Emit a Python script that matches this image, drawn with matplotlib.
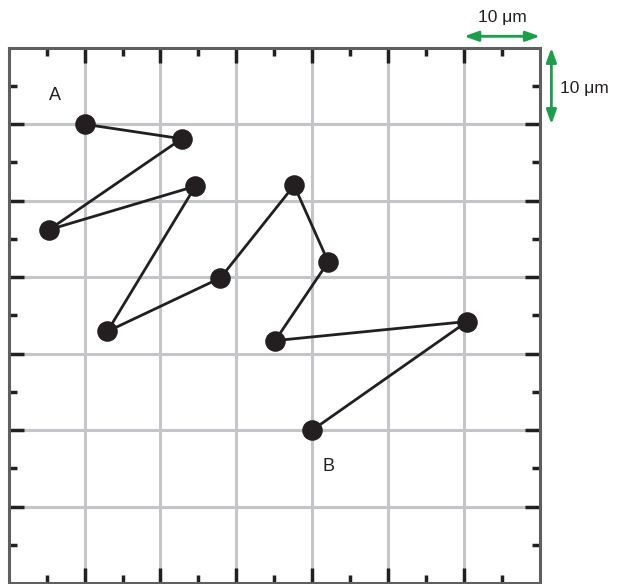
import matplotlib
matplotlib.use("Agg")
import matplotlib.pyplot as plt
from matplotlib.ticker import FixedLocator

plt.rcParams['font.family'] = ['Liberation Sans', 'DejaVu Sans']

# Random-walk positions in grid units (1 unit = 10 µm), from A to B
walk_x = [1.0, 2.28, 0.53, 2.46, 1.30, 2.79, 3.76, 4.21, 3.51, 6.04, 4.0]
walk_y = [6.0, 5.81, 4.62, 5.19, 3.29, 3.99, 5.20, 4.20, 3.17, 3.42, 2.0]
start_label = "A"
end_label = "B"
scale_label = "10 \u03bcm"
grid_extent = 7

fig = plt.figure(figsize=(6.2, 5.84), dpi=100)
ax = fig.add_axes([0.014, 0.0017, 0.857, 0.9165])
ax.set_xlim(0, grid_extent)
ax.set_ylim(0, grid_extent)

# light grid at every whole unit
for v in range(1, grid_extent):
    ax.axvline(v, color="#c3c5c8", lw=2.2, zorder=1)
    ax.axhline(v, color="#c3c5c8", lw=2.2, zorder=1)

ax.plot(walk_x, walk_y, color="#231f20", lw=2.0, zorder=3)
ax.plot(walk_x, walk_y, "o", color="#231f20", ms=13.8, zorder=4)

ax.text(0.61, 6.37, start_label, fontsize=13, ha="center", va="center", color="#231f20")
ax.text(4.21, 1.52, end_label, fontsize=13, ha="center", va="center", color="#231f20")

major = list(range(1, grid_extent))
minor = [k + 0.5 for k in range(grid_extent)]
for axis in (ax.xaxis, ax.yaxis):
    axis.set_major_locator(FixedLocator(major))
    axis.set_minor_locator(FixedLocator(minor))
ax.tick_params(which="both", direction="in", top=True, right=True,
               labelbottom=False, labelleft=False, color="#231f20", width=2.5)
ax.tick_params(which="major", length=11)
ax.tick_params(which="minor", length=5.5)
for s in ax.spines.values():
    s.set_color("#5f5f5f")
    s.set_linewidth(2.2)

# scale bars
green = "#1aa04a"
ax.annotate("", xy=(6, 7.15), xytext=(7, 7.15), xycoords="data",
            arrowprops=dict(arrowstyle="<|-|>,head_length=0.7,head_width=0.25",
                            color=green, lw=2, mutation_scale=12,
                            shrinkA=0, shrinkB=0),
            annotation_clip=False)
ax.text(6.5, 7.4, scale_label, fontsize=12.5, ha="center", va="center", color="#231f20")
ax.annotate("", xy=(7.15, 7), xytext=(7.15, 6), xycoords="data",
            arrowprops=dict(arrowstyle="<|-|>,head_length=0.7,head_width=0.25",
                            color=green, lw=2, mutation_scale=12,
                            shrinkA=0, shrinkB=0),
            annotation_clip=False)
ax.text(7.26, 6.47, scale_label, fontsize=12.5, ha="left", va="center", color="#231f20")

fig.savefig("out.png", dpi=100)
